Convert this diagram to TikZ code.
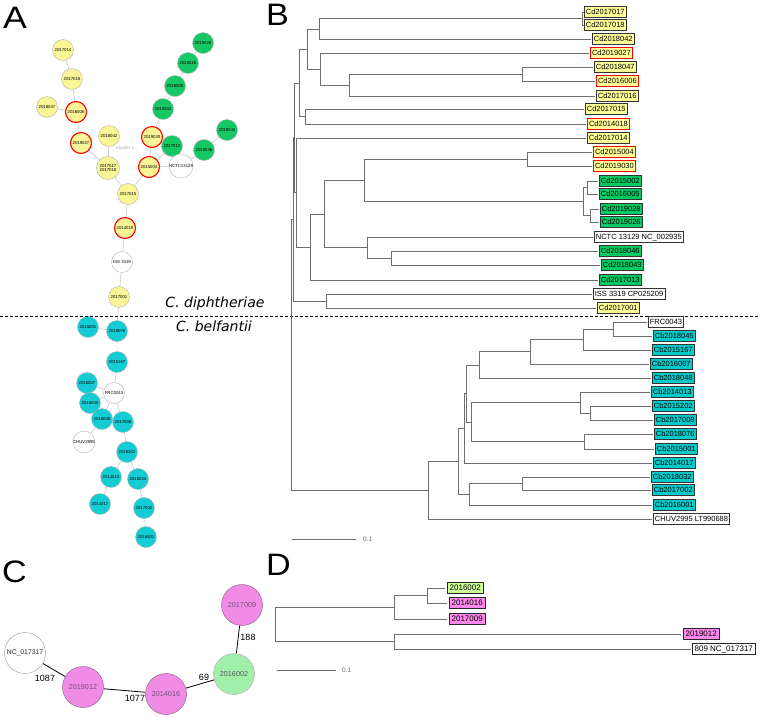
\documentclass[tikz,border=0pt]{standalone}
\usepackage{fontspec}
\setmainfont{Liberation Sans}
\newfontfamily\dejavu{DejaVu Sans}
\usetikzlibrary{backgrounds}
\definecolor{ayel}{RGB}{250,245,150}
\definecolor{agrn}{RGB}{22,200,100}
\definecolor{acyn}{RGB}{20,205,212}
\definecolor{byel}{RGB}{255,255,153}
\definecolor{bgrn}{RGB}{0,204,102}
\definecolor{bcyn}{RGB}{0,204,204}
\definecolor{cpink}{RGB}{240,140,230}
\definecolor{cpinkb}{RGB}{150,100,150}
\definecolor{cgrn}{RGB}{160,240,172}
\definecolor{dgrn}{RGB}{204,255,153}
\definecolor{dpink}{RGB}{255,136,238}
\definecolor{tgray}{RGB}{110,110,110}
\begin{document}
\begin{tikzpicture}[x=1pt,y=-1pt,
  an/.style={circle,minimum size=21pt,inner sep=0pt,draw=gray!60,line width=0.4pt,
    font=\fontsize{4.3}{4.8}\selectfont,align=center},
  ay/.style={an,fill=ayel},
  ag/.style={an,fill=agrn},
  ac/.style={an,fill=acyn},
  aw/.style={an,fill=white},
  ar/.style={draw=red,line width=1.1pt},
  ae/.style={draw=gray!55,line width=0.45pt},
  bl/.style={anchor=west,draw=gray!40!black,line width=0.5pt,inner xsep=1.6pt,inner ysep=2pt,
    text height=5.4pt,text depth=1.3pt,font=\fontsize{7.5}{8}\selectfont},
  by/.style={bl,fill=byel},
  byr/.style={bl,fill=byel,draw=red,line width=0.8pt},
  bg/.style={bl,fill=bgrn},
  bc/.style={bl,fill=bcyn},
  bw/.style={bl,fill=white},
  tl/.style={draw=tgray,line width=0.6pt},
  tls/.style={tl,shorten >=1.5pt},
  dl/.style={anchor=west,draw=gray!30!black,line width=0.5pt,inner xsep=2.4pt,inner ysep=2pt,
    text height=5.8pt,text depth=1.4pt,font=\fontsize{8}{9}\selectfont},
  cn/.style={circle,minimum size=41pt,inner sep=0pt,line width=0.5pt,font=\fontsize{7.2}{8}\selectfont},
  ce/.style={draw=black,line width=0.8pt},
  cl/.style={font=\fontsize{9}{10}\selectfont,inner sep=0pt},
  big/.style={anchor=base west,inner sep=0pt,font=\fontsize{31}{31}\selectfont},
  sp/.style={font=\dejavu\itshape\fontsize{14}{15}\selectfont,inner sep=0pt}
]
\begin{pgfonlayer}{background}
\fill[white] (0,0) rectangle (760,716);
\end{pgfonlayer}
\useasboundingbox (0,0) rectangle (760,716);

% panel letters
\node[big] (LA) at (3,28) {\scalebox{1.15}[1]{A}};
\node[big] (LB) at (266,25) {\scalebox{1.1}[1]{B}};
\node[big] (LC) at (2,582) {\scalebox{1.1}[1]{C}};
\node[big] (LD) at (266,575) {\scalebox{1.1}[1]{D}};

% ---------------- Panel A ----------------
\node[ay] (a14) at (63,50) {2017014};
\node[ay] (a16) at (72,79) {2017016};
\node[ay] (a47) at (47,107) {2018047};
\node[ay,ar] (a06) at (76,112) {2016006};
\node[ay,ar] (a27) at (81,143) {2019027};
\node[ay] (a42) at (109,136) {2018042};
\node[ay,minimum size=23pt] (a1718) at (108,168) {2017017\\2017018};
\node[ay] (a15) at (128,194) {2017015};
\node[ay,ar] (a30) at (152,137) {2019030};
\node[ay,ar] (a04) at (149,167) {2015004};
\node[ag] (a13) at (172,146) {2017013};
\node[aw] (anctc) at (181,166) {NCTC13129};
\node[ag] (a46) at (204,150) {2018046};
\node[ag] (a43) at (227,130) {2018043};
\node[ag] (a28) at (203,43) {2019028};
\node[ag] (a26) at (188,63) {2019026};
\node[ag] (a05) at (175,86) {2016005};
\node[ag] (a02) at (163,109) {2015002};
\node[ay,ar] (a18) at (125,228) {2014018};
\node[aw] (aiss) at (122,262) {ISS 3319};
\node[ay] (a01) at (119,297) {2017001};
\node[ac] (b76) at (117,331) {2018076};
\node[ac] (b5001) at (88,327) {2015001};
\node[ac] (b67) at (117,362) {2015167};
\node[ac] (b07) at (87,383) {2016007};
\node[aw] (bfrc) at (114,393) {FRC0043};
\node[ac] (b45) at (90,403) {2018045};
\node[ac] (b48) at (102,419) {2018048};
\node[ac] (b08) at (123,422) {2017008};
\node[aw] (bchuv) at (84,442) {CHUV2995};
\node[ac] (b202) at (127,452) {2015202};
\node[ac] (b13) at (111,477) {2014013};
\node[ac] (b32) at (138,479) {2018032};
\node[ac] (b17) at (100,504) {2014017};
\node[ac] (b02) at (144,508) {2017002};
\node[ac] (b01) at (146,537) {2016001};
\node[text=gray!70,font=\fontsize{4.6}{5}\selectfont] (clu) at (125,148) {Cluster 1};

\begin{pgfonlayer}{background}
\draw[ae] (a14)--(a16) (a16)--(a06) (a47)--(a06) (a06)--(a27) (a27)--(a1718)
  (a42)--(a1718) (a1718)--(a15) (a15)--(a04) (a04)--(a30) (a30)--(a02)
  (a02)--(a05) (a05)--(a26) (a26)--(a28) (a04)--(a13) (a04)--(anctc)
  (anctc)--(a46) (a46)--(a43) (a15)--(a18) (a18)--(aiss) (aiss)--(a01)
  (a01)--(b76) (b76)--(b5001) (b76)--(b67) (b67)--(bfrc) (bfrc)--(b07)
  (bfrc)--(b45) (bfrc)--(b48) (bfrc)--(b08) (b48)--(bchuv) (b08)--(b202)
  (b202)--(b13) (b202)--(b32) (b13)--(b17) (b32)--(b02) (b02)--(b01);
\end{pgfonlayer}

% separator and species names
\draw[line width=0.8pt,dash pattern=on 3pt off 2pt] (0,316) -- (760,316);
\node[sp] (cdip) at (215,304) {C. diphtheriae};
\node[sp] (cbel) at (214,326) {C. belfantii};

% ---------------- Panel B ----------------
\node[by] (l17017) at (584,12) {Cd2017017};
\node[by] (l17018) at (584,25) {Cd2017018};
\node[by] (l18042) at (592,39) {Cd2018042};
\node[byr] (l19027) at (590,53) {Cd2019027};
\node[by] (l18047) at (594,67) {Cd2018047};
\node[byr] (l16006) at (596,81) {Cd2016006};
\node[by] (l17016) at (596,96) {Cd2017016};
\node[by] (l17015) at (585,109) {Cd2017015};
\node[byr] (l14018) at (587,124) {Cd2014018};
\node[by] (l17014) at (587,138) {Cd2017014};
\node[byr] (l15004) at (593,152) {Cd2015004};
\node[byr] (l19030) at (593,166) {Cd2019030};
\node[bg] (l15002) at (599,181) {Cd2015002};
\node[bg] (l16005) at (599,194) {Cd2016005};
\node[bg] (l19028) at (600,209) {Cd2019028};
\node[bg] (l19026) at (600,222) {Cd2019026};
\node[bw] (lNCTC) at (594,237) {NCTC 13129 NC\_002935};
\node[bg] (l18046) at (599,251) {Cd2018046};
\node[bg] (l18043) at (601,265) {Cd2018043};
\node[bg] (l17013) at (599,280) {Cd2017013};
\node[bw] (lISS) at (593,294) {ISS 3319 CP025209};
\node[by] (l17001) at (597,308) {Cd2017001};
\node[bw] (lFRC) at (648,322) {FRC0043};
\node[bc] (l18045) at (653,336) {Cb2018045};
\node[bc] (l15167) at (652,350) {Cb2015167};
\node[bc] (l16007) at (650,364) {Cb2016007};
\node[bc] (l18048) at (652,378) {Cb2018048};
\node[bc] (l14013) at (651,392) {Cb2014013};
\node[bc] (l15202) at (652,406) {Cb2015202};
\node[bc] (l17008) at (654,420) {Cb2017008};
\node[bc] (l18076) at (654,434) {Cb2018076};
\node[bc] (l15001) at (655,449) {Cb2015001};
\node[bc] (l14017) at (653,463) {Cb2014017};
\node[bc] (l18032) at (651,477) {Cb2018032};
\node[bc] (l17002) at (652,490) {Cb2017002};
\node[bc] (l16001) at (653,505) {Cb2016001};
\node[bw] (lCHUV) at (653,519) {CHUV2995 LT990688};

\coordinate (b1) at (582,18.5);
\coordinate (b2) at (319,29);
\coordinate (b3) at (522,74);
\coordinate (b4) at (349,85);
\coordinate (b5) at (320,69);
\coordinate (b6) at (307,49);
\coordinate (b7) at (305,116.5);
\coordinate (b8) at (299,83);
\coordinate (b9) at (527,159);
\coordinate (b10) at (587,187.5);
\coordinate (b11) at (590,215.5);
\coordinate (b12) at (583,201.5);
\coordinate (b13) at (364,180);
\coordinate (b14) at (391,258);
\coordinate (b15) at (367,247.5);
\coordinate (b16) at (324,214);
\coordinate (b17) at (310,247);
\coordinate (b18) at (296,192);
\coordinate (b19) at (294,137.5);
\coordinate (b20) at (326,301);
\coordinate (b21) at (293,219);
\coordinate (broot) at (291,354.5);
\coordinate (c1) at (613,329);
\coordinate (c2) at (583,339.5);
\coordinate (c3) at (530,351.5);
\coordinate (c4) at (479,365);
\coordinate (c5) at (590,413);
\coordinate (c6) at (580,402.5);
\coordinate (c7) at (584,441.5);
\coordinate (c8) at (471,422);
\coordinate (c9) at (466,393.5);
\coordinate (c10) at (464,428);
\coordinate (c11) at (522,483.5);
\coordinate (c12) at (469,494);
\coordinate (c13) at (458,461);
\coordinate (c14) at (428,490);

\draw[tl] (b1) |- (l17017.west); \draw[tl] (b1) |- (l17018.west);
\draw[tl] (b2) |- (b1); \draw[tls] (b2) |- (l18042.west);
\draw[tls] (b3) |- (l18047.west); \draw[tls] (b3) |- (l16006.west);
\draw[tl] (b4) |- (b3); \draw[tls] (b4) |- (l17016.west);
\draw[tls] (b5) |- (l19027.west); \draw[tl] (b5) |- (b4);
\draw[tl] (b6) |- (b2); \draw[tl] (b6) |- (b5);
\draw[tls] (b7) |- (l17015.west); \draw[tls] (b7) |- (l14018.west);
\draw[tl] (b8) |- (b6); \draw[tl] (b8) |- (b7);
\draw[tls] (b9) |- (l15004.west); \draw[tls] (b9) |- (l19030.west);
\draw[tls] (b10) |- (l15002.west); \draw[tls] (b10) |- (l16005.west);
\draw[tls] (b11) |- (l19028.west); \draw[tls] (b11) |- (l19026.west);
\draw[tl] (b12) |- (b10); \draw[tl] (b12) |- (b11);
\draw[tl] (b13) |- (b9); \draw[tl] (b13) |- (b12);
\draw[tls] (b14) |- (l18046.west); \draw[tls] (b14) |- (l18043.west);
\draw[tls] (b15) |- (lNCTC.west); \draw[tl] (b15) |- (b14);
\draw[tl] (b16) |- (b13); \draw[tl] (b16) |- (b15);
\draw[tl] (b17) |- (b16); \draw[tls] (b17) |- (l17013.west);
\draw[tls] (b18) |- (l17014.west); \draw[tl] (b18) |- (b17);
\draw[tl] (b19) |- (b8); \draw[tl] (b19) |- (b18);
\draw[tls] (b20) |- (lISS.west); \draw[tls] (b20) |- (l17001.west);
\draw[tl] (b21) |- (b19); \draw[tl] (b21) |- (b20);
\draw[tl] (broot) |- (b21); \draw[tl] (broot) |- (c14);
\draw[tls] (c1) |- (lFRC.west); \draw[tls] (c1) |- (l18045.west);
\draw[tl] (c2) |- (c1); \draw[tls] (c2) |- (l15167.west);
\draw[tl] (c3) |- (c2); \draw[tls] (c3) |- (l16007.west);
\draw[tl] (c4) |- (c3); \draw[tls] (c4) |- (l18048.west);
\draw[tls] (c5) |- (l15202.west); \draw[tls] (c5) |- (l17008.west);
\draw[tls] (c6) |- (l14013.west); \draw[tl] (c6) |- (c5);
\draw[tls] (c7) |- (l18076.west); \draw[tls] (c7) |- (l15001.west);
\draw[tl] (c8) |- (c6); \draw[tl] (c8) |- (c7);
\draw[tl] (c9) |- (c4); \draw[tl] (c9) |- (c8);
\draw[tl] (c10) |- (c9); \draw[tls] (c10) |- (l14017.west);
\draw[tls] (c11) |- (l18032.west); \draw[tls] (c11) |- (l17002.west);
\draw[tl] (c12) |- (c11); \draw[tls] (c12) |- (l16001.west);
\draw[tl] (c13) |- (c10); \draw[tl] (c13) |- (c12);
\draw[tl] (c14) |- (c13); \draw[tls] (c14) |- (lCHUV.west);

\coordinate (sb1) at (292,539);
\coordinate (sb2) at (356,539);
\draw[tl] (sb1) -- (sb2);
\node[anchor=west,font=\fontsize{6.5}{7}\selectfont,text=tgray,inner sep=0pt] (sbl) at (363,539.5) {0.1};

% ---------------- Panel C ----------------
\node[cn,draw=gray!70,fill=white,text=gray!30!black,font=\fontsize{6.8}{7}\selectfont] (cNC) at (25,653) {NC\_017317};
\node[cn,draw=cpinkb,fill=cpink,text=cpinkb!80!black] (c19) at (83,687) {2019012};
\node[cn,draw=cpinkb,fill=cpink,text=cpinkb!80!black] (c14n) at (166,694) {2014016};
\node[cn,draw=gray!60,fill=cgrn,text=gray!70!black] (c16n) at (234,674) {2016002};
\node[cn,draw=cpinkb,fill=cpink,text=cpinkb!80!black] (c17n) at (242,605) {2017009};
\begin{pgfonlayer}{background}
\draw[ce] (cNC)--(c19) (c19)--(c14n) (c14n)--(c16n) (c16n)--(c17n);
\end{pgfonlayer}
\node[cl] (e1) at (45,678) {1087};
\node[cl] (e2) at (135,698) {1077};
\node[cl] (e3) at (204,677) {69};
\node[cl] (e4) at (248,637) {188};

% ---------------- Panel D ----------------
\node[dl,fill=dgrn] (d02) at (447,588) {2016002};
\node[dl,fill=dpink] (d16) at (449,603) {2014016};
\node[dl,fill=dpink] (d09) at (449,619) {2017009};
\node[dl,fill=dpink] (d12) at (683,634) {2019012};
\node[dl,fill=white] (d809) at (692,649) {809 NC\_017317};
\coordinate (d1) at (427,595.5);
\coordinate (d2) at (394,607);
\coordinate (d3) at (394,641);
\coordinate (d4) at (275,624);
\draw[tls,shorten >=2.5pt] (d1) |- (d02.west); \draw[tls,shorten >=2.5pt] (d1) |- (d16.west);
\draw[tl] (d2) |- (d1); \draw[tls,shorten >=2.5pt] (d2) |- (d09.west);
\draw[tls,shorten >=2.5pt] (d3) |- (d12.west); \draw[tls] (d3) |- (d809.west);
\draw[tl] (d4) |- (d2); \draw[tl] (d4) |- (d3);
\coordinate (ds1) at (277,670);
\coordinate (ds2) at (336,670);
\draw[tl] (ds1) -- (ds2);
\node[anchor=west,font=\fontsize{6.5}{7}\selectfont,text=tgray,inner sep=0pt] (dsl) at (342,670.5) {0.1};
\end{tikzpicture}
\end{document}
